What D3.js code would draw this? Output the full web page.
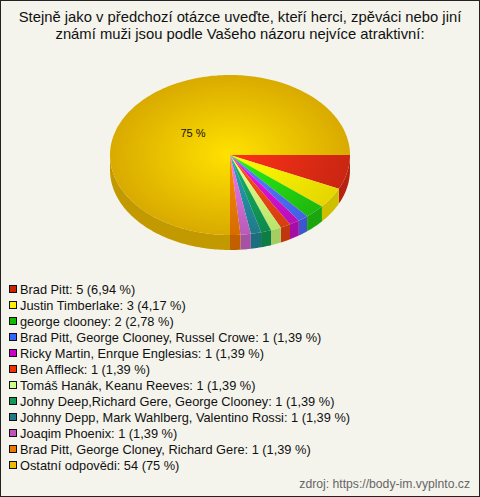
<!DOCTYPE html>
<html>
<head>
<meta charset="utf-8">
<title>Atraktivní muži</title>
<script src="https://d3js.org/d3.v7.min.js"></script>
<style>
  body { margin: 0; background: #fff; }
  svg { display: block; font-family: "Liberation Sans", Arial, sans-serif; }
</style>
</head>
<body>
<div id="chart"></div>
<script>
// data
var titleLines = ["Stejně jako v předchozí otázce uveďte, kteří herci, zpěváci nebo jiní",
                  "známí muži jsou podle Vašeho názoru nejvíce atraktivní:"];
var labels = ["Brad Pitt", "Justin Timberlake", "george clooney",
  "Brad Pitt, George Clooney, Russel Crowe", "Ricky Martin, Enrque Englesias",
  "Ben Affleck", "Tomáš Hanák, Keanu Reeves", "Johny Deep,Richard Gere, George Clooney",
  "Johnny Depp, Mark Wahlberg, Valentino Rossi", "Joaqim Phoenix",
  "Brad Pitt, George Cloney, Richard Gere", "Ostatní odpovědi"];
var counts = [5, 3, 2, 1, 1, 1, 1, 1, 1, 1, 1, 54];
var percents = ["6,94", "4,17", "2,78", "1,39", "1,39", "1,39", "1,39", "1,39", "1,39", "1,39", "1,39", "75"];
var colors = ["#e02a14", "#ffee00", "#22cc11", "#4a6cff", "#cc11cc", "#ee4411",
  "#ccff77", "#119955", "#228899", "#cc66cc", "#ee7700", "#f2bd00"];
var legendColors = ["#cc2200", "#ffee00", "#11bb00", "#3366ff", "#cc00cc", "#ee3300",
  "#ccff88", "#119955", "#227788", "#bb55bb", "#ee7700", "#eebb00"];
var source = "zdroj: https://body-im.vyplnto.cz";

var w = 480, h = 497;
var cx = 230, cy = 155, rx = 120, ry = 80, depth = 15;

var svg = d3.select("#chart").append("svg")
  .attr("width", w).attr("height", h);

var defs = svg.append("defs");

svg.append("rect")
  .attr("x", 0.5).attr("y", 0.5)
  .attr("width", w - 1).attr("height", h - 1)
  .attr("fill", "#f4f4ec")
  .attr("stroke", "#222");

// title
svg.selectAll(".title").data(titleLines).enter().append("text")
  .attr("x", 240)
  .attr("y", function(d, i) { return 22 + i * 17; })
  .attr("text-anchor", "middle")
  .attr("font-size", 14.8)
  .attr("fill", "#111")
  .text(function(d) { return d; });

// pie angles start at 3 o'clock, clockwise
var pie = d3.pie().sort(null).startAngle(Math.PI / 2).endAngle(Math.PI / 2 + 2 * Math.PI);
var arcs = pie(counts);

function pt(a, dy) {
  return [cx + rx * Math.sin(a), cy - ry * Math.cos(a) + (dy || 0)];
}

function topPath(d) {
  var p = d3.path();
  p.moveTo(cx, cy);
  var n = Math.max(2, Math.ceil((d.endAngle - d.startAngle) / 0.02));
  for (var k = 0; k <= n; k++) {
    var a = d.startAngle + (d.endAngle - d.startAngle) * k / n;
    var q = pt(a);
    p.lineTo(q[0], q[1]);
  }
  p.closePath();
  return p.toString();
}

function sidePath(d) {
  // only the front half (between 3 and 9 o'clock) is visible
  var a0 = Math.max(d.startAngle, Math.PI / 2);
  var a1 = Math.min(d.endAngle, 3 * Math.PI / 2);
  if (a1 <= a0) return null;
  var p = d3.path();
  var n = Math.max(2, Math.ceil((a1 - a0) / 0.02));
  var q = pt(a0);
  p.moveTo(q[0], q[1]);
  for (var k = 1; k <= n; k++) {
    q = pt(a0 + (a1 - a0) * k / n);
    p.lineTo(q[0], q[1]);
  }
  for (var k2 = n; k2 >= 0; k2--) {
    q = pt(a0 + (a1 - a0) * k2 / n, depth);
    p.lineTo(q[0], q[1]);
  }
  p.closePath();
  return p.toString();
}

// gradients for top faces
colors.forEach(function(c, i) {
  var g = defs.append("radialGradient")
    .attr("id", "g" + i)
    .attr("gradientUnits", "userSpaceOnUse")
    .attr("cx", cx).attr("cy", cy).attr("r", rx)
    .attr("gradientTransform", "translate(" + cx + "," + cy + ") scale(1," + (ry / rx) + ") translate(" + (-cx) + "," + (-cy) + ")");
  g.append("stop").attr("offset", "0%").attr("stop-color", d3.color(c).brighter(0.5));
  g.append("stop").attr("offset", "100%").attr("stop-color", d3.color(c).darker(0.3));
});

// sides
svg.selectAll(".side").data(arcs).enter().append("path")
  .attr("class", "side")
  .attr("d", function(d) { return sidePath(d); })
  .attr("fill", function(d, i) { return d3.color(colors[i]).darker(0.6); });

// top faces
svg.selectAll(".top").data(arcs).enter().append("path")
  .attr("class", "top")
  .attr("d", topPath)
  .attr("fill", function(d, i) { return "url(#g" + i + ")"; });

// label on the big slice
svg.append("text")
  .attr("x", 193).attr("y", 137)
  .attr("text-anchor", "middle")
  .attr("font-size", 11)
  .attr("fill", "#111")
  .text(percents[11] + " %");

// legend
var ly = d3.scaleLinear().domain([0, labels.length - 1]).range([289, 465]);
var leg = svg.selectAll(".leg").data(labels).enter().append("g")
  .attr("transform", function(d, i) { return "translate(0," + ly(i) + ")"; });
leg.append("rect")
  .attr("x", 9.5).attr("y", -3.5)
  .attr("width", 7).attr("height", 7)
  .attr("fill", function(d, i) { return legendColors[i]; })
  .attr("stroke", "#111");
leg.append("text")
  .attr("x", 20).attr("y", 4.5)
  .attr("font-size", 12.8)
  .attr("fill", "#111")
  .text(function(d, i) { return d + ": " + counts[i] + " (" + percents[i] + " %)"; });

svg.append("text")
  .attr("x", 470).attr("y", 488)
  .attr("text-anchor", "end")
  .attr("font-size", 12.2)
  .attr("fill", "#666")
  .text(source);
</script>
</body>
</html>
